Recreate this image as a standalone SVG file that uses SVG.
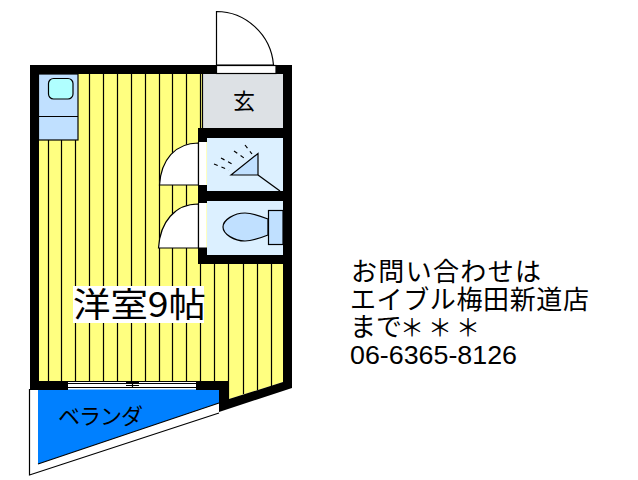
<svg xmlns="http://www.w3.org/2000/svg" width="638" height="480" viewBox="0 0 638 480">
<style>
.l{fill:none;stroke:#000;stroke-width:1.2}
.w{fill:#000;stroke:none}
.d{fill:#fff;stroke:#000;stroke-width:1.2}
.t{font-family:"Noto Sans CJK JP","Liberation Sans",sans-serif;fill:#000}
.s{stroke:#000;stroke-width:1.2;fill:none}
</style>
<rect width="638" height="480" fill="#fff"/>
<g id="room">
<polygon points="38,74 283,74 283,382 229,399 229,381 38,381" fill="#ffff80"/>
<path class="s" d="M48.500 140V381M61.500 140V381M75.500 140V381M89.500 74V381M103.500 74V381M117.500 74V381M131.500 74V381M145.500 74V381M159.500 74V381M172.500 74V381M186.500 74V381M200.500 74V128M200.500 264V381M214.500 264V381M228.500 264V399M243.500 264V394M257.500 264V390M271.500 264V386"/>
<rect x="73" y="286" width="131" height="37" fill="#fff"/>
<text class="t" x="73" y="317" font-size="34" textLength="133" lengthAdjust="spacingAndGlyphs">洋室9帖</text>
</g>
<g id="bed">
<rect x="38.500" y="74" width="39.500" height="66" fill="#c0e0ff" stroke="#000" stroke-width="1.2"/>
<path class="s" d="M38.500 116.500H78"/>
<rect x="48.500" y="78.500" width="24.500" height="20.500" rx="5" fill="#b0ffff" stroke="#000" stroke-width="1.2"/>
</g>
<g id="entrance">
<rect x="202" y="74" width="81" height="54" fill="#dde1e5"/>
<path class="s" d="M202.500 74V128"/>
<text class="t" x="244" y="109" font-size="22" text-anchor="middle">玄</text>
</g>
<g id="bath">
<rect x="207" y="138" width="76" height="53" fill="#dcf0ff"/>
<polygon points="231,175 258,153.500 258,175" fill="#c0e0ff" stroke="#000" stroke-width="1.2"/>
<path class="s" d="M258 175L280 191"/>
<path class="s" stroke-dasharray="4 4" d="M214 164L229 170M221 158L234 165M234 151L244 158M245 145L252 154"/>
</g>
<g id="toilet">
<rect x="207" y="201" width="76" height="54" fill="#dcf0ff"/>
<path d="M268 219C258 215 250 213 245 213C234 213 223 220 223 227C223 234 234 241 245 241C250 241 258 239 268 235Z" fill="#c0e0ff" stroke="#000" stroke-width="1.2"/>
<rect x="268.500" y="210.500" width="14.500" height="34" fill="#c0e0ff" stroke="#000" stroke-width="1.2"/>
</g>
<g id="balcony">
<polygon points="30,389 219,389 219,413 30,475" fill="#fff"/>
<polygon points="38,389.500 219,389.500 219,403 38,464" fill="#0080ff"/>
<path class="s" d="M38 464L219 403M29.500 389V475L219 413"/>
<text class="t" x="58" y="424" font-size="22" textLength="85">ベランダ</text>
</g>
<g id="walls">
<path class="w" d="M30 65H216V74H39V381H68V390H30Z"/>
<path class="w" d="M276 65H292V388L219 412V390H196V381H229V399L283 382V74H276Z"/>
<path class="w" d="M198 128H283V138H207V142H198ZM198 186H207V191H283V201H207V203H198ZM198 248H207V255H283V264H198Z"/>
</g>
<g id="entry-door">
<path class="d" d="M216.500 65V11.500C245 11.500 271 34 273.500 65Z"/>
<rect x="216.500" y="65.500" width="59.500" height="8" class="d"/>
</g>
<g id="bath-door">
<path class="d" d="M198.500 143C175 143 161 160 159.500 185H198.500Z"/>
<rect x="198.500" y="142" width="8" height="43.500" fill="#fff"/>
<path class="s" d="M198.500 142V185.500H207"/>
</g>
<g id="toilet-door">
<path class="d" d="M198.500 204C175 204 160 222 158.500 248H198.500Z"/>
<rect x="198.500" y="203" width="8" height="45" fill="#fff"/>
<path class="s" d="M198.500 203V248H207"/>
</g>
<g id="window">
<rect x="68" y="381" width="128" height="8" fill="#fff"/>
<path class="s" d="M68 381.500H196M68 383.500H196M68 387.500H196M126 382.500H139M126 385.500H139M132.500 382V388"/>
</g>
<g id="contact">
<text class="t" x="351" y="281" font-size="26" textLength="190">お問い合わせは</text>
<text class="t" x="350" y="309" font-size="26" textLength="239">エイブル梅田新道店</text>
<text class="t" x="350" y="336" font-size="26">まで<tspan font-size="24" x="400" y="336">＊</tspan><tspan font-size="24" x="428" y="336">＊</tspan><tspan font-size="24" x="456" y="336">＊</tspan></text>
<text x="350" y="364" font-size="25" textLength="167" lengthAdjust="spacingAndGlyphs" style="font-family:'Liberation Sans',sans-serif">06-6365-8126</text>
</g>
</svg>
